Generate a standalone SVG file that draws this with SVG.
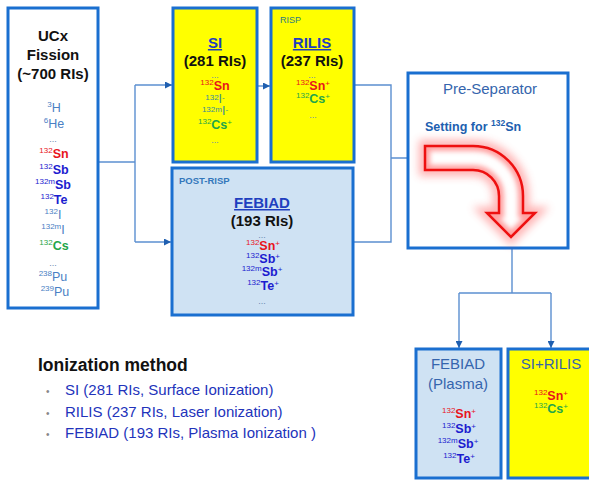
<svg xmlns="http://www.w3.org/2000/svg" width="589" height="480" viewBox="0 0 589 480">
<style>
text{font-family:"Liberation Sans",Arial,sans-serif}
.box{stroke:#1a6fd0;stroke-width:3}
.wh{fill:#ffffff}.yl{fill:#ffff00}.lb{fill:#cfe2f3}
.con{fill:none;stroke:#5b8fd0;stroke-width:1.4}
.h{font-weight:bold;font-size:15px;fill:#111}
.hu{font-weight:bold;font-size:15px;fill:#1f3fbf;text-decoration:underline}
.b{font-weight:bold;font-size:12.5px}
.n{font-size:12.5px}
.s{font-size:8px;font-weight:normal}
.r{fill:#e8141c}.bl{fill:#1c1ccf}.g{fill:#1fa64a}.lt{fill:#4a80c4}.tl{fill:#3d8c9a}
.dots{font-size:9px;fill:#6b88b0}
.m{font-size:15px;fill:#3565ad}
.li{font-size:15px;fill:#2233bb}
</style>
<defs>
<marker id="ah" viewBox="0 0 10 10" refX="10" refY="5" markerWidth="7" markerHeight="7" markerUnits="userSpaceOnUse" orient="auto">
<path d="M0,0 L10,5 L0,10 Z" fill="#1f5fb0"/>
</marker>
<filter id="glow" x="-30%" y="-30%" width="160%" height="160%"><feGaussianBlur stdDeviation="4"/></filter>
<filter id="soft" x="-20%" y="-20%" width="140%" height="140%"><feGaussianBlur stdDeviation="2.5"/></filter>
<path id="bend" d="M425,146 H473 A50,50 0 0 1 523,196 V213 H535 L511,237 L487,213 H499 V196 A26,26 0 0 0 473,170 H425 Z"/>
<clipPath id="bendClip"><use href="#bend"/></clipPath>
</defs>

<g id="connectors">
<path class="con" d="M98,162 H135"/>
<path class="con" d="M135,85 V242"/>
<path class="con" d="M135,85 H172" marker-end="url(#ah)"/>
<path class="con" d="M135,242 H171" marker-end="url(#ah)"/>
<path class="con" d="M258,86 H270" marker-end="url(#ah)"/>
<path class="con" d="M355,85 H391 V242 H354"/>
<path class="con" d="M391,158 H424" marker-end="url(#ah)"/>
<path class="con" d="M512,237 V293"/>
<path class="con" d="M459,293 H551"/>
<path class="con" d="M459,293 V348" marker-end="url(#ah)"/>
<path class="con" d="M551,293 V348" marker-end="url(#ah)"/>
</g>

<g id="ucx">
<rect class="box wh" x="8" y="8" width="90" height="300"/>
<text class="h" x="53" y="41" text-anchor="middle">UCx</text>
<text class="h" x="53" y="60" text-anchor="middle">Fission</text>
<text class="h" x="53" y="79" text-anchor="middle">(~700 RIs)</text>
<text class="n lt" x="54" y="112" text-anchor="middle"><tspan class="s" dy="-5">3</tspan><tspan dy="5">H</tspan></text>
<text class="n lt" x="54" y="128" text-anchor="middle"><tspan class="s" dy="-5">6</tspan><tspan dy="5">He</tspan></text>
<text class="dots" x="53" y="142" text-anchor="middle">...</text>
<text class="b r" x="54" y="158" text-anchor="middle"><tspan class="s" dy="-5">132</tspan><tspan dy="5">Sn</tspan></text>
<text class="b bl" x="54" y="174" text-anchor="middle"><tspan class="s" dy="-5">132</tspan><tspan dy="5">Sb</tspan></text>
<text class="b bl" x="53" y="189" text-anchor="middle"><tspan class="s" dy="-5">132m</tspan><tspan dy="5">Sb</tspan></text>
<text class="b bl" x="54" y="204" text-anchor="middle"><tspan class="s" dy="-5">132</tspan><tspan dy="5">Te</tspan></text>
<text class="n lt" x="53" y="219" text-anchor="middle"><tspan class="s" dy="-5">132</tspan><tspan dy="5">I</tspan></text>
<text class="n lt" x="53" y="234" text-anchor="middle"><tspan class="s" dy="-5">132m</tspan><tspan dy="5">I</tspan></text>
<text class="b g" x="54" y="250" text-anchor="middle"><tspan class="s" dy="-5">132</tspan><tspan dy="5">Cs</tspan></text>
<text class="dots" x="53" y="266" text-anchor="middle">...</text>
<text class="n lt" x="53" y="281" text-anchor="middle"><tspan class="s" dy="-5">238</tspan><tspan dy="5">Pu</tspan></text>
<text class="n lt" x="55" y="296" text-anchor="middle"><tspan class="s" dy="-5">239</tspan><tspan dy="5">Pu</tspan></text>
</g>

<g id="si">
<rect class="box yl" x="173" y="8" width="84" height="154"/>
<text class="hu" x="215" y="48" text-anchor="middle">SI</text>
<text class="h" x="215" y="66" text-anchor="middle">(281 RIs)</text>
<text class="dots" x="215" y="78" text-anchor="middle">...</text>
<text class="b r" x="215" y="90" text-anchor="middle"><tspan class="s" dy="-5">132</tspan><tspan dy="5">Sn</tspan></text>
<text class="n tl" x="215" y="103" text-anchor="middle" font-size="10.5"><tspan class="s" dy="-3">132</tspan><tspan dy="3">I</tspan><tspan class="s" dy="-3">-</tspan></text>
<text class="n tl" x="215" y="115" text-anchor="middle" font-size="10.5"><tspan class="s" dy="-3">132m</tspan><tspan dy="3">I</tspan><tspan class="s" dy="-3">-</tspan></text>
<text class="b g" x="215" y="129" text-anchor="middle"><tspan class="s" dy="-5">132</tspan><tspan dy="5">Cs</tspan><tspan class="s" dy="-4">+</tspan></text>
<text class="dots" x="215" y="143" text-anchor="middle">...</text>
</g>

<g id="rilis">
<rect class="box yl" x="271" y="8" width="83" height="154"/>
<text x="280" y="23" font-size="9" fill="#2e7a80">RISP</text>
<text class="hu" x="312" y="48" text-anchor="middle">RILIS</text>
<text class="h" x="312" y="66" text-anchor="middle">(237 RIs)</text>
<text class="dots" x="312" y="78" text-anchor="middle">...</text>
<text class="b r" x="313" y="90" text-anchor="middle"><tspan class="s" dy="-5">132</tspan><tspan dy="5">Sn</tspan><tspan class="s" dy="-4">+</tspan></text>
<text class="b g" x="313" y="103" text-anchor="middle"><tspan class="s" dy="-5">132</tspan><tspan dy="5">Cs</tspan><tspan class="s" dy="-4">+</tspan></text>
<text class="dots" x="313" y="118" text-anchor="middle">...</text>
</g>

<g id="febiad">
<rect class="box lb" x="172" y="168" width="181" height="147"/>
<text x="179" y="184" font-size="9.5" font-weight="bold" fill="#3377bb">POST-RISP</text>
<text class="hu" x="262" y="208" text-anchor="middle">FEBIAD</text>
<text class="h" x="262" y="226" text-anchor="middle">(193 RIs)</text>
<text class="dots" x="262" y="238" text-anchor="middle">...</text>
<text class="b r" x="263" y="250" text-anchor="middle"><tspan class="s" dy="-5">132</tspan><tspan dy="5">Sn</tspan><tspan class="s" dy="-4">+</tspan></text>
<text class="b bl" x="263" y="263" text-anchor="middle"><tspan class="s" dy="-5">132</tspan><tspan dy="5">Sb</tspan><tspan class="s" dy="-4">+</tspan></text>
<text class="b bl" x="262" y="276" text-anchor="middle"><tspan class="s" dy="-5">132m</tspan><tspan dy="5">Sb</tspan><tspan class="s" dy="-4">+</tspan></text>
<text class="b bl" x="263" y="290" text-anchor="middle"><tspan class="s" dy="-5">132</tspan><tspan dy="5">Te</tspan><tspan class="s" dy="-4">+</tspan></text>
<text class="dots" x="262" y="304" text-anchor="middle">...</text>
</g>

<g id="preseparator">
<rect class="box wh" x="408" y="73" width="160" height="175"/>
<text class="m" x="490" y="94" text-anchor="middle" fill="#2f6fb5">Pre-Separator</text>
<text x="425" y="131" font-size="12.5" font-weight="bold" fill="#2060b0">Setting for <tspan font-size="8.5" dy="-5">132</tspan><tspan dy="5">Sn</tspan></text>
<use href="#bend" fill="none" stroke="#ff4040" stroke-width="12" opacity="0.4" filter="url(#glow)"/>
<use href="#bend" fill="#ffffff"/>
<g clip-path="url(#bendClip)"><use href="#bend" fill="none" stroke="#ffa0a0" stroke-width="10" filter="url(#soft)"/></g>
<use href="#bend" fill="none" stroke="#ee1010" stroke-width="2.5"/>
</g>

<g id="febiad-plasma">
<rect class="box lb" x="416" y="349" width="85" height="129"/>
<text class="m" x="458" y="369" text-anchor="middle">FEBIAD</text>
<text class="m" x="458" y="389" text-anchor="middle">(Plasma)</text>
<text class="b r" x="459" y="418" text-anchor="middle"><tspan class="s" dy="-5">132</tspan><tspan dy="5">Sn</tspan><tspan class="s" dy="-4">+</tspan></text>
<text class="b bl" x="459" y="433" text-anchor="middle"><tspan class="s" dy="-5">132</tspan><tspan dy="5">Sb</tspan><tspan class="s" dy="-4">+</tspan></text>
<text class="b bl" x="458" y="448" text-anchor="middle"><tspan class="s" dy="-5">132m</tspan><tspan dy="5">Sb</tspan><tspan class="s" dy="-4">+</tspan></text>
<text class="b bl" x="459" y="463" text-anchor="middle"><tspan class="s" dy="-5">132</tspan><tspan dy="5">Te</tspan><tspan class="s" dy="-4">+</tspan></text>
</g>

<g id="si-rilis">
<rect class="box yl" x="508" y="349" width="92" height="129"/>
<text class="m" x="551" y="369" text-anchor="middle">SI+RILIS</text>
<text class="b r" x="551" y="400" text-anchor="middle"><tspan class="s" dy="-5">132</tspan><tspan dy="5">Sn</tspan><tspan class="s" dy="-4">+</tspan></text>
<text class="b g" x="551" y="413" text-anchor="middle"><tspan class="s" dy="-5">132</tspan><tspan dy="5">Cs</tspan><tspan class="s" dy="-4">+</tspan></text>
</g>

<g id="legend">
<text x="38" y="371" font-size="17.5" font-weight="bold" fill="#111">Ionization method</text>
<text x="46" y="395" font-size="10" fill="#888">•</text>
<text class="li" x="65" y="395">SI (281 RIs, Surface Ionization)</text>
<text x="46" y="417" font-size="10" fill="#888">•</text>
<text class="li" x="65" y="417">RILIS (237 RIs, Laser Ionization)</text>
<text x="46" y="438" font-size="10" fill="#888">•</text>
<text class="li" x="65" y="438">FEBIAD (193 RIs, Plasma Ionization )</text>
</g>
</svg>
